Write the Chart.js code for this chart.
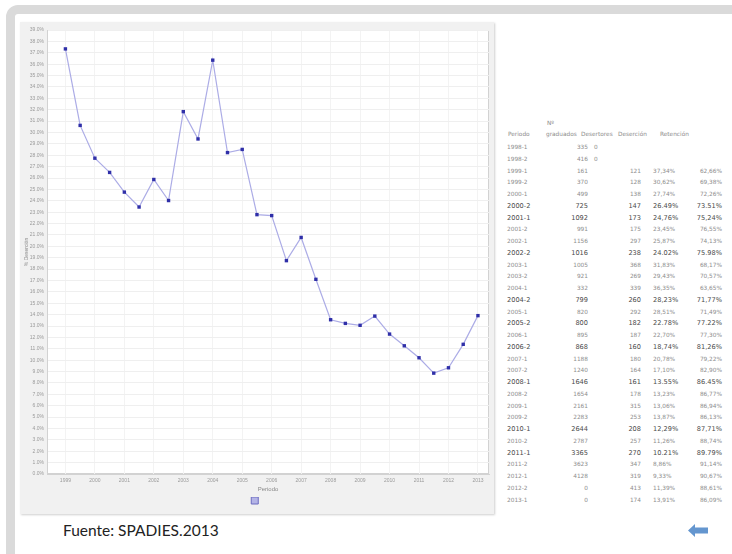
<!DOCTYPE html>
<html>
<head>
<meta charset="utf-8">
<script src="https://cdn.jsdelivr.net/npm/chart.js@4"></script>
<style>
html, body { margin: 0; padding: 0; background: #fff; }
body { width: 732px; height: 554px; position: relative; overflow: hidden; font-family: "DejaVu Sans", sans-serif; }
#frame { position: absolute; left: 6px; top: 5px; width: 740px; height: 600px; border: 9px solid #dadada; border-radius: 12px; box-sizing: border-box; }
#panel { position: absolute; left: 20px; top: 22px; width: 474px; height: 492px; background: #f1f1f1; box-shadow: 1px 1px 2px #cfcfcf; }
.c { position: absolute; white-space: nowrap; line-height: 8px; font-size: 5.8px; color: #8d8d8d; }
.c.b { font-size: 6.6px; color: #4a4a4a; }
#fuente { position: absolute; left: 63px; top: 521px; font-family: Lato, "Open Sans", sans-serif; font-size: 15.5px; color: #222; }
#flecha { position: absolute; left: 688px; top: 524px; }
</style>
</head>
<body>
<div id="frame"></div>
<div id="panel"><canvas id="grafico" width="474" height="492"></canvas></div>
<div id="tabla"></div>
<div id="fuente">Fuente: SPADIES.2013</div>
<svg id="flecha" width="20" height="13" viewBox="0 0 20 13">
  <polygon points="0,6.5 7,0 7,3.5 20,3.5 20,9.5 7,9.5 7,13" fill="#6496cf"/>
</svg>
<script>
// periodos y datos de la tabla
const periodos = ["1998-1", "1998-2", "1999-1", "1999-2", "2000-1", "2000-2", "2001-1", "2001-2",
    "2002-1", "2002-2", "2003-1", "2003-2", "2004-1", "2004-2", "2005-1", "2005-2", "2006-1", "2006-2",
    "2007-1", "2007-2", "2008-1", "2008-2", "2009-1", "2009-2", "2010-1", "2010-2", "2011-1", "2011-2",
    "2012-1", "2012-2", "2013-1"];
const graduados = [335, 416, 161, 370, 499, 725, 1092, 991, 1156, 1016, 1005, 921, 332, 799, 820, 800,
    895, 868, 1188, 1240, 1646, 1654, 2161, 2283, 2644, 2787, 3365, 3623, 4128, 0, 0];
const desertores = [0, 0, 121, 128, 138, 147, 173, 175, 297, 238, 368, 269, 339, 260, 292, 182,
    187, 160, 180, 164, 161, 178, 315, 253, 208, 257, 270, 347, 319, 413, 174];
const desercion = [null, null, 37.34, 30.62, 27.74, 26.49, 24.76, 23.45, 25.87, 24.02, 31.83, 29.43,
    36.35, 28.23, 28.51, 22.78, 22.70, 18.74, 20.78, 17.10, 13.55, 13.23, 13.06, 13.87, 12.29, 11.26,
    10.21, 8.86, 9.33, 11.39, 13.91];
const retencion = [null, null, 62.66, 69.38, 72.26, 73.51, 75.24, 76.55, 74.13, 75.98, 68.17, 70.57,
    63.65, 71.77, 71.49, 77.22, 77.30, 81.26, 79.22, 82.90, 86.45, 86.77, 86.94, 86.13, 87.71, 88.74,
    89.79, 91.14, 90.67, 88.61, 86.09];
const filasResaltadas = ["2000-2", "2001-1", "2002-2", "2004-2", "2005-2", "2006-2", "2008-1", "2010-1", "2011-1"];
const filasConPunto = ["2000-2", "2002-2", "2005-2", "2008-1", "2011-1"];

// etiquetas del eje x (una por año)
const anios = ["1999", "2000", "2001", "2002", "2003", "2004", "2005", "2006", "2007",
    "2008", "2009", "2010", "2011", "2012", "2013"];

// tabla de la derecha
const tabla = document.getElementById("tabla");
const celda = (txt, x, y, derecha, resaltada) => {
    const d = document.createElement("div");
    d.className = "c" + (resaltada ? " b" : "");
    d.textContent = txt;
    d.style.top = y + "px";
    if (derecha) d.style.right = (732 - x) + "px";
    else d.style.left = x + "px";
    tabla.appendChild(d);
};
celda("Nº", 547, 119, false, false);
celda("Periodo", 508, 130, false, false);
celda("graduados", 546, 130, false, false);
celda("Desertores", 581, 130, false, false);
celda("Deserción", 618, 130, false, false);
celda("Retención", 660, 130, false, false);

periodos.forEach((p, i) => {
    const y = 143 + i * 11.75;
    const res = filasResaltadas.includes(p);
    const fmt = (v) => {
        const s = v.toFixed(2) + "%";
        return filasConPunto.includes(p) ? s : s.replace(".", ",");
    };
    celda(p, 507, y, false, res);
    celda(String(graduados[i]), 588, y, true, res);
    if (desercion[i] === null) {
        celda(String(desertores[i]), 594, y, false, res);
    } else {
        celda(String(desertores[i]), 641, y, true, res);
        celda(fmt(desercion[i]), 653, y, false, res);
        celda(fmt(retencion[i]), 722, y, true, res);
    }
});

// serie del gráfico: deserción por periodo desde 1999-1
const puntos = [];
desercion.forEach((v) => {
    if (v !== null) puntos.push({ x: puntos.length, y: v });
});

const fondoPlot = {
    id: "fondoPlot",
    beforeDraw(chart) {
        const { ctx, chartArea: a } = chart;
        ctx.save();
        ctx.fillStyle = "#ffffff";
        ctx.fillRect(a.left, a.top, a.width, a.height);
        ctx.strokeStyle = "#d2d2d2";
        ctx.lineWidth = 1;
        ctx.strokeRect(a.left + 0.5, a.top + 0.5, a.width - 1, a.height - 1);
        ctx.restore();
    },
};

new Chart(document.getElementById("grafico"), {
    type: "line",
    data: {
        datasets: [
            {
                label: "",
                data: puntos,
                borderColor: "#acacE6",
                borderWidth: 1.2,
                pointStyle: "rect",
                pointRadius: 2.4,
                pointBackgroundColor: "#2f2fa8",
                pointBorderColor: "#2f2fa8",
                pointBorderWidth: 0,
                tension: 0,
            },
        ],
    },
    options: {
        responsive: false,
        animation: false,
        layout: { padding: { left: 4, right: 5, top: 8, bottom: 0 } },
        scales: {
            x: {
                type: "linear",
                min: -1.25,
                max: 28.75,
                afterBuildTicks: (scale) => {
                    scale.ticks = anios.map((a, k) => ({ value: k * 2 }));
                },
                afterFit: (scale) => { scale.height = 23; },
                grid: { color: "#f3f3f3", drawTicks: false },
                border: { color: "#d2d2d2" },
                ticks: {
                    autoSkip: false,
                    maxRotation: 0,
                    padding: 4,
                    color: "#9a9a9a",
                    font: { size: 5 },
                    callback: (v) => anios[v / 2] ?? "",
                },
                title: {
                    display: true,
                    text: "Periodo",
                    color: "#8a8a8a",
                    font: { size: 6 },
                    padding: { top: 0, bottom: 4 },
                },
            },
            y: {
                min: 0,
                max: 39,
                afterFit: (scale) => { scale.width = 23; },
                grid: { color: "#efefef", drawTicks: false },
                border: { color: "#d2d2d2" },
                ticks: {
                    stepSize: 1,
                    maxTicksLimit: 100,
                    autoSkip: false,
                    padding: 3,
                    color: "#9a9a9a",
                    font: { size: 5 },
                    callback: (v) => v.toFixed(1) + "%",
                },
                title: {
                    display: true,
                    text: "% Deserción",
                    color: "#8a8a8a",
                    font: { size: 5 },
                    padding: 0,
                },
            },
        },
        plugins: {
            legend: {
                position: "bottom",
                labels: {
                    boxWidth: 7,
                    boxHeight: 7,
                    padding: 0,
                    font: { size: 7 },
                    generateLabels: () => [
                        { text: "", fillStyle: "#b4b4e6", strokeStyle: "#6c6cc0", lineWidth: 1, datasetIndex: 0 },
                    ],
                },
            },
            tooltip: { enabled: false },
        },
    },
    plugins: [fondoPlot],
});
</script>
</body>
</html>
